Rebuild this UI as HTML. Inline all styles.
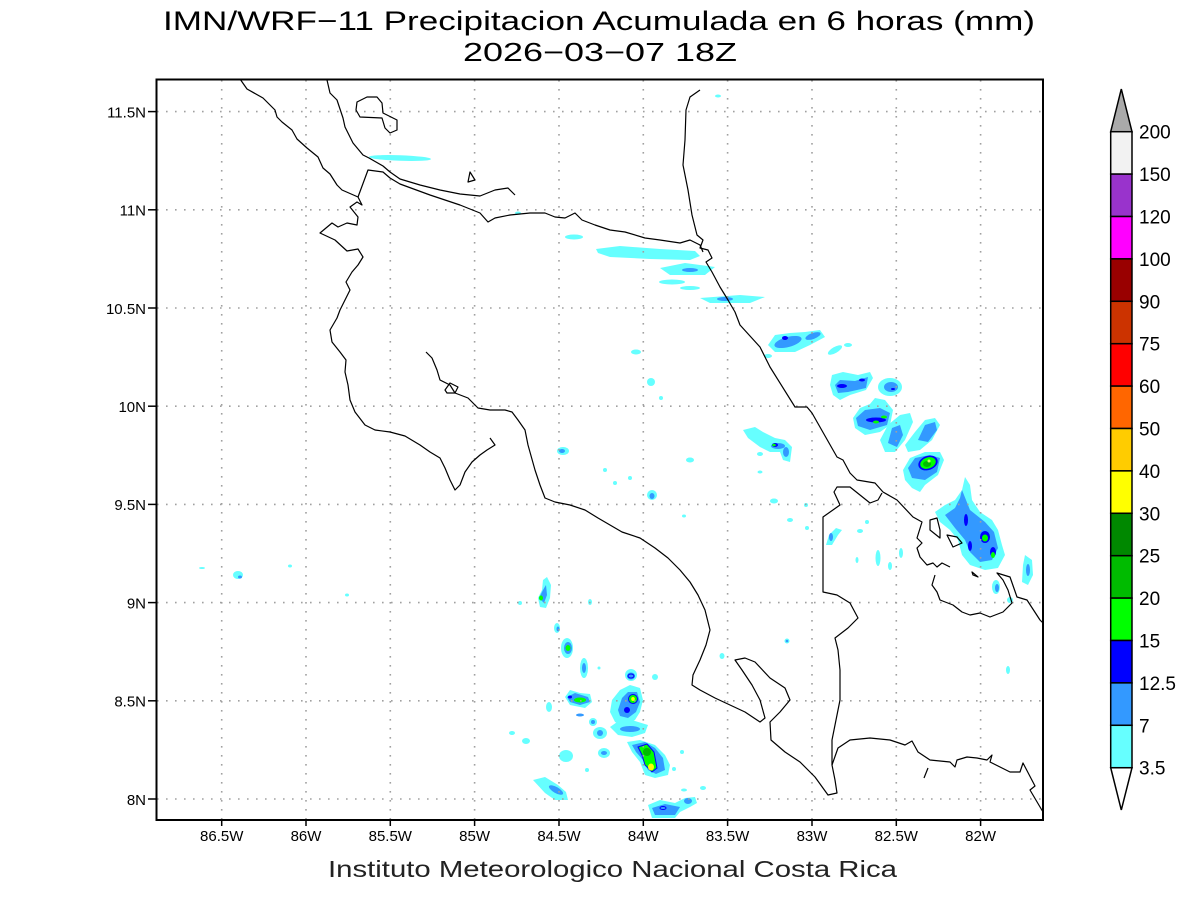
<!DOCTYPE html>
<html>
<head>
<meta charset="utf-8">
<style>
html,body{margin:0;padding:0;background:#fff;}
svg{display:block;}
text{font-family:"Liberation Sans",sans-serif;}
</style>
</head>
<body>
<svg width="1200" height="900" viewBox="0 0 1200 900" xmlns="http://www.w3.org/2000/svg">
<rect x="0" y="0" width="1200" height="900" fill="#fff"/>

<!-- Title -->
<text x="163" y="30" font-size="27" textLength="872" lengthAdjust="spacingAndGlyphs" fill="#000">IMN/WRF−11 Precipitacion Acumulada en 6 horas (mm)</text>
<text x="463" y="61" font-size="26" textLength="274" lengthAdjust="spacingAndGlyphs" fill="#000">2026−03−07 18Z</text>

<!-- Precipitation -->
<g stroke="none">
<!-- top -->
<ellipse cx="400" cy="158" rx="31" ry="2.8" fill="#66ffff" transform="rotate(2 400 158)"/>
<ellipse cx="718" cy="96" rx="3" ry="1.5" fill="#66ffff"/>
<ellipse cx="518" cy="213" rx="3" ry="1.5" fill="#66ffff"/>
<ellipse cx="574" cy="237" rx="9" ry="2.5" fill="#66ffff"/>
<polygon points="596,249 620,246 660,249 695,251 700,256 690,260 650,259 610,257 598,253" fill="#66ffff"/>
<polygon points="660,268 685,263 715,267 705,275 670,275" fill="#66ffff"/>
<ellipse cx="690" cy="270" rx="8" ry="2" fill="#3399ff"/>
<ellipse cx="672" cy="282" rx="13" ry="2.5" fill="#66ffff"/>
<ellipse cx="690" cy="288" rx="10" ry="2" fill="#66ffff"/>
<polygon points="700,298 740,295 765,297 750,303 710,303" fill="#66ffff"/>
<ellipse cx="725" cy="299" rx="8" ry="2" fill="#3399ff"/>
<polygon points="768,345 775,335 790,333 805,332 820,330 825,337 810,345 795,352 775,352" fill="#66ffff"/>
<ellipse cx="788" cy="342" rx="14" ry="5" fill="#3399ff" transform="rotate(-15 788 342)"/>
<ellipse cx="813" cy="336" rx="8" ry="3" fill="#3399ff" transform="rotate(-20 813 336)"/>
<ellipse cx="785" cy="338" rx="3" ry="2" fill="#0000ff"/>
<ellipse cx="835" cy="350" rx="8" ry="3" fill="#66ffff" transform="rotate(-30 835 350)"/>
<ellipse cx="848" cy="345" rx="4" ry="2" fill="#66ffff"/>
<ellipse cx="636" cy="352" rx="5" ry="2.5" fill="#66ffff"/>
<ellipse cx="651" cy="382" rx="4" ry="4" fill="#66ffff"/>
<ellipse cx="661" cy="398" rx="2" ry="2" fill="#66ffff"/>
<ellipse cx="768" cy="356" rx="4" ry="2" fill="#66ffff"/>
<!-- NE cluster -->
<polygon points="830,385 832,375 843,372 858,375 870,372 873,378 866,390 850,395 840,400 833,395" fill="#66ffff"/>
<polygon points="835,385 840,380 855,381 868,377 866,388 848,392 838,393" fill="#3399ff"/>
<ellipse cx="842" cy="386" rx="5" ry="2" fill="#0000ff"/>
<ellipse cx="862" cy="380" rx="3" ry="1.5" fill="#0000ff"/>
<ellipse cx="890" cy="387" rx="12" ry="9" fill="#66ffff"/>
<ellipse cx="891" cy="387" rx="7" ry="5" fill="#3399ff"/>
<ellipse cx="893" cy="389" rx="2" ry="1" fill="#0000ff"/>
<polygon points="853,418 860,408 870,404 875,398 885,400 893,410 890,425 880,432 865,435 855,428" fill="#66ffff"/>
<polygon points="856,418 865,410 880,408 890,413 887,425 870,430 858,426" fill="#3399ff"/>
<ellipse cx="876" cy="420" rx="10" ry="2.5" fill="#0000ff"/>
<ellipse cx="876" cy="422" rx="3" ry="1.5" fill="#00ff00"/>
<ellipse cx="884" cy="417" rx="3" ry="1.5" fill="#00ff00"/>
<polygon points="880,440 888,425 900,415 910,413 913,422 905,440 895,452 885,452" fill="#66ffff"/>
<polygon points="888,443 892,428 900,425 903,435 897,447" fill="#3399ff"/>
<polygon points="905,445 915,432 925,420 935,418 940,425 932,440 920,450 908,452" fill="#66ffff"/>
<polygon points="918,440 925,425 935,422 937,430 928,442" fill="#3399ff"/>
<polygon points="903,470 910,458 925,452 940,452 944,460 938,475 925,485 920,492 912,488 905,480" fill="#66ffff"/>
<polygon points="908,468 915,458 930,455 940,458 937,472 925,480 912,478" fill="#3399ff"/>
<ellipse cx="928" cy="463" rx="10" ry="7" fill="#0000ff" transform="rotate(-20 928 463)"/>
<ellipse cx="928" cy="463" rx="8" ry="5.5" fill="#00ff00" transform="rotate(-20 928 463)"/>
<ellipse cx="927" cy="464" rx="4" ry="3" fill="#00bb00"/>
<ellipse cx="929" cy="461" rx="1.5" ry="1.5" fill="#ccff66"/>
<polygon points="965,477 970,485 972,500 980,512 992,520 998,530 1002,545 1005,555 998,568 985,570 970,565 962,555 958,540 950,530 940,522 935,512 945,505 955,500 962,490" fill="#66ffff"/>
<polygon points="962,490 966,500 970,510 985,522 994,532 998,548 992,560 980,562 970,552 965,540 955,528 945,515 955,508 960,498" fill="#3399ff"/>
<ellipse cx="966" cy="520" rx="2" ry="6" fill="#0000ff"/>
<ellipse cx="970" cy="546" rx="2" ry="5" fill="#0000ff"/>
<ellipse cx="985" cy="537" rx="5" ry="6" fill="#0000ff"/>
<ellipse cx="993" cy="552" rx="3" ry="5" fill="#0000ff"/>
<ellipse cx="985" cy="538" rx="3" ry="3.5" fill="#00ff00"/>
<ellipse cx="993" cy="555" rx="2" ry="3" fill="#00ff00"/>
<polygon points="1025,555 1032,560 1033,575 1028,585 1022,582 1023,565" fill="#66ffff"/>
<ellipse cx="1028" cy="570" rx="2" ry="6" fill="#3399ff"/>
<ellipse cx="996" cy="587" rx="4" ry="7" fill="#66ffff"/>
<ellipse cx="997" cy="588" rx="2" ry="4" fill="#3399ff"/>
<ellipse cx="1010" cy="600" rx="3" ry="3" fill="#66ffff"/>
<ellipse cx="1008" cy="670" rx="2" ry="4" fill="#66ffff"/>
<!-- middle -->
<polygon points="743,430 755,427 763,432 775,438 785,440 792,447 790,462 783,460 780,452 770,452 760,447 748,438" fill="#66ffff"/>
<ellipse cx="778" cy="446" rx="7" ry="3" fill="#3399ff"/>
<ellipse cx="775" cy="445" rx="3" ry="2" fill="#0000ff"/>
<ellipse cx="774" cy="445" rx="1.8" ry="1.3" fill="#00ff00"/>
<ellipse cx="786" cy="452" rx="3" ry="5" fill="#3399ff"/>
<ellipse cx="760" cy="454" rx="3" ry="2" fill="#66ffff"/>
<ellipse cx="760" cy="472" rx="2.5" ry="1.5" fill="#66ffff"/>
<ellipse cx="690" cy="460" rx="4" ry="2.5" fill="#66ffff"/>
<ellipse cx="563" cy="451" rx="6" ry="4" fill="#66ffff"/>
<ellipse cx="562" cy="451" rx="3" ry="2" fill="#3399ff"/>
<ellipse cx="605" cy="470" rx="2" ry="2" fill="#66ffff"/>
<ellipse cx="615" cy="483" rx="2" ry="2" fill="#66ffff"/>
<ellipse cx="630" cy="478" rx="2" ry="2" fill="#66ffff"/>
<ellipse cx="652" cy="495" rx="5" ry="5" fill="#66ffff"/>
<ellipse cx="652" cy="496" rx="2.5" ry="3" fill="#3399ff"/>
<ellipse cx="684" cy="516" rx="2" ry="1.5" fill="#66ffff"/>
<ellipse cx="774" cy="501" rx="4" ry="2.5" fill="#66ffff"/>
<ellipse cx="790" cy="520" rx="3" ry="2" fill="#66ffff"/>
<ellipse cx="806" cy="505" rx="2" ry="2" fill="#66ffff"/>
<ellipse cx="807" cy="528" rx="2" ry="2" fill="#66ffff"/>
<polygon points="826,545 829,535 836,528 842,530 838,535 832,545" fill="#66ffff"/>
<ellipse cx="831" cy="537" rx="2" ry="4" fill="#3399ff"/>
<ellipse cx="860" cy="531" rx="3" ry="2" fill="#66ffff"/>
<ellipse cx="867" cy="522" rx="2" ry="2" fill="#66ffff"/>
<ellipse cx="878" cy="558" rx="2.5" ry="8" fill="#66ffff"/>
<ellipse cx="901" cy="553" rx="2" ry="5" fill="#66ffff"/>
<ellipse cx="890" cy="566" rx="2" ry="4" fill="#66ffff"/>
<ellipse cx="857" cy="560" rx="1.5" ry="3" fill="#66ffff"/>
<ellipse cx="787" cy="641" rx="2.5" ry="2.5" fill="#66ffff"/>
<ellipse cx="787" cy="641" rx="1.3" ry="1.3" fill="#3399ff"/>
<ellipse cx="722" cy="656" rx="2.5" ry="3" fill="#66ffff"/>
<!-- left -->
<ellipse cx="202" cy="568" rx="3" ry="1" fill="#66ffff"/>
<ellipse cx="238" cy="575" rx="5" ry="4" fill="#66ffff"/>
<ellipse cx="240" cy="577" rx="2" ry="1.5" fill="#3399ff"/>
<ellipse cx="290" cy="566" rx="2" ry="1.5" fill="#66ffff"/>
<ellipse cx="347" cy="595" rx="2" ry="1.5" fill="#66ffff"/>
<!-- SW cluster -->
<polygon points="538,598 542,590 543,580 547,577 551,585 550,598 546,608 540,607" fill="#66ffff"/>
<polygon points="539,598 543,590 546,585 547,595 544,603" fill="#3399ff"/>
<ellipse cx="541" cy="598" rx="2" ry="2.5" fill="#00ff00"/>
<ellipse cx="520" cy="603" rx="2" ry="2" fill="#66ffff"/>
<ellipse cx="590" cy="602" rx="2" ry="3" fill="#66ffff"/>
<ellipse cx="557" cy="628" rx="3" ry="5" fill="#66ffff"/>
<ellipse cx="558" cy="629" rx="1.5" ry="2.5" fill="#3399ff"/>
<ellipse cx="567" cy="648" rx="6" ry="10" fill="#66ffff"/>
<ellipse cx="568" cy="648" rx="4" ry="6" fill="#3399ff"/>
<ellipse cx="568" cy="648" rx="2.5" ry="3" fill="#00ff00"/>
<ellipse cx="584" cy="668" rx="4" ry="10" fill="#66ffff"/>
<ellipse cx="584" cy="668" rx="2" ry="5" fill="#3399ff"/>
<ellipse cx="599" cy="668" rx="1.5" ry="1.5" fill="#66ffff"/>
<ellipse cx="631" cy="675" rx="6" ry="6" fill="#66ffff"/>
<ellipse cx="631" cy="676" rx="4" ry="3.5" fill="#3399ff"/>
<ellipse cx="631" cy="676" rx="3" ry="2" fill="none" stroke="#0000ff" stroke-width="1"/>
<ellipse cx="655" cy="677" rx="3" ry="3" fill="#66ffff"/>
<polygon points="565,697 570,690 580,693 590,694 592,702 585,708 570,705" fill="#66ffff"/>
<polygon points="567,697 575,693 588,697 590,702 580,705 570,702" fill="#3399ff"/>
<ellipse cx="580" cy="700" rx="6" ry="2.5" fill="#00ff00"/>
<ellipse cx="570" cy="697" rx="2" ry="1.5" fill="#0000ff"/>
<ellipse cx="549" cy="707" rx="3" ry="5" fill="#66ffff"/>
<ellipse cx="580" cy="715" rx="4" ry="1.5" fill="#3399ff"/>
<polygon points="612,700 620,690 630,685 640,688 643,700 640,712 635,720 625,727 615,722 610,712" fill="#66ffff"/>
<polygon points="618,710 622,698 628,692 637,692 640,702 636,712 628,718 620,716" fill="#3399ff"/>
<ellipse cx="633" cy="699" rx="5" ry="5" fill="#0000ff"/>
<ellipse cx="633" cy="699" rx="4" ry="4" fill="#00ff00"/>
<ellipse cx="633" cy="699" rx="1.8" ry="2" fill="#ffff00"/>
<ellipse cx="627" cy="710" rx="3" ry="3" fill="#0000ff"/>
<polygon points="610,727 620,720 635,721 648,725 645,733 632,737 618,735" fill="#66ffff"/>
<ellipse cx="630" cy="729" rx="10" ry="3" fill="#3399ff"/>
<ellipse cx="593" cy="722" rx="4" ry="4" fill="#66ffff"/>
<ellipse cx="593" cy="722" rx="2" ry="2" fill="#3399ff"/>
<ellipse cx="600" cy="733" rx="7" ry="6" fill="#66ffff"/>
<ellipse cx="600" cy="733" rx="3" ry="3" fill="#3399ff"/>
<ellipse cx="512" cy="733" rx="3" ry="2" fill="#66ffff"/>
<ellipse cx="526" cy="741" rx="4" ry="3" fill="#66ffff"/>
<polygon points="627,742 640,740 655,745 665,755 670,765 668,775 655,778 645,775 640,762 632,752" fill="#66ffff"/>
<polygon points="632,745 645,742 655,748 663,758 665,770 656,774 648,770 643,760 636,752" fill="#3399ff"/>
<polygon points="638,747 647,744 654,752 657,768 652,772 645,765 642,755" fill="#00ff00" stroke="#0000ff" stroke-width="1"/>
<ellipse cx="647" cy="752" rx="4" ry="4" fill="#00bb00"/>
<ellipse cx="651" cy="767" rx="3" ry="3.5" fill="#ffff00"/>
<ellipse cx="604" cy="753" rx="6" ry="5" fill="#66ffff"/>
<ellipse cx="604" cy="753" rx="3" ry="2" fill="#3399ff"/>
<ellipse cx="566" cy="756" rx="7" ry="6" fill="#66ffff"/>
<ellipse cx="587" cy="770" rx="2" ry="2" fill="#66ffff"/>
<ellipse cx="682" cy="752" rx="2" ry="2" fill="#66ffff"/>
<ellipse cx="674" cy="769" rx="2" ry="2" fill="#66ffff"/>
<ellipse cx="703" cy="788" rx="3" ry="2" fill="#66ffff"/>
<polygon points="533,780 545,777 558,785 566,792 568,800 555,800 545,793" fill="#66ffff"/>
<ellipse cx="556" cy="790" rx="8" ry="3" fill="#3399ff" transform="rotate(30 556 790)"/>
<polygon points="648,805 660,800 675,803 685,798 695,797 697,803 690,807 680,812 675,818 652,818" fill="#66ffff"/>
<polygon points="652,808 665,804 680,807 675,815 655,815" fill="#3399ff"/>
<ellipse cx="663" cy="808" rx="3" ry="1.5" fill="none" stroke="#0000ff" stroke-width="1"/>
<ellipse cx="688" cy="801" rx="4" ry="3" fill="#3399ff"/>
<ellipse cx="684" cy="790" rx="3" ry="1.5" fill="#66ffff"/>
</g>

<!-- Grid -->
<g stroke="#a0a0a0" stroke-width="1.6" stroke-dasharray="1.6 7.4" fill="none">
<line x1="221.7" y1="80" x2="221.7" y2="819"/>
<line x1="306" y1="80" x2="306" y2="819"/>
<line x1="390.3" y1="80" x2="390.3" y2="819"/>
<line x1="474.6" y1="80" x2="474.6" y2="819"/>
<line x1="559" y1="80" x2="559" y2="819"/>
<line x1="643.3" y1="80" x2="643.3" y2="819"/>
<line x1="727.6" y1="80" x2="727.6" y2="819"/>
<line x1="812" y1="80" x2="812" y2="819"/>
<line x1="896.3" y1="80" x2="896.3" y2="819"/>
<line x1="980.6" y1="80" x2="980.6" y2="819"/>
<line x1="157" y1="799" x2="1042" y2="799"/>
<line x1="157" y1="700.8" x2="1042" y2="700.8"/>
<line x1="157" y1="602.6" x2="1042" y2="602.6"/>
<line x1="157" y1="504.4" x2="1042" y2="504.4"/>
<line x1="157" y1="406.2" x2="1042" y2="406.2"/>
<line x1="157" y1="308" x2="1042" y2="308"/>
<line x1="157" y1="209.8" x2="1042" y2="209.8"/>
<line x1="157" y1="111.6" x2="1042" y2="111.6"/>
</g>

<!-- Coastlines / borders -->
<g stroke="#000" stroke-width="1.2" fill="none" stroke-linejoin="round">
<path d="M240,79 L247,89 L263,98 L275,110 L277,117 L282,122 L292,130 L297,139 L307,148 L318,157 L323,168 L330,174 L337,185 L342,190 L358,197 L362,205 L357,202 L350,207 L358,217 L357,225 L347,223 L338,227 L332,223 L320,233 L335,240 L347,251 L358,249 L363,257 L358,265 L352,272 L346,282 L350,290 L345,300 L340,310 L337,318 L330,330 L332,342 L340,352 L346,360 L345,372 L348,385 L350,400 L355,412 L365,425 L375,430 L390,432 L405,436 L420,445 L430,452 L440,458 L445,468 L450,480 L455,490 L460,485 L465,472 L472,462 L480,455 L487,450 L495,445 L490,438"/>
<path d="M426,352 L432,358 L437,370 L440,380 L450,385 L455,393 L468,398 L478,408 L490,410 L505,410 L512,412 L518,420 L525,430 L528,445 L535,470 L540,485 L545,498 L555,502 L570,505 L585,510 L598,518 L610,525 L622,532 L640,538 L655,548 L668,558 L680,570 L690,582 L698,595 L705,610 L710,630 L706,645 L700,660 L693,675 L692,685 L700,690 L715,698 L730,705 L745,712 L760,722 L765,718 L760,700 L752,685 L742,670 L735,660 L745,658 L755,662 L770,678 L785,688 L790,700 L780,712 L770,722 L771,740 L785,752 L800,762 L815,777 L828,795 L837,793 L835,780 L832,765 L838,748 L850,740 L870,738 L890,740 L905,745 L912,741 L918,752 L930,760 L950,762 L955,767 L957,760 L967,757 L977,758 L987,760 L992,755 L990,762 L1010,772 L1020,772 L1023,763 L1035,786 L1030,790 L1043,812"/>
<path d="M445,390 L450,383 L458,387 L455,393 L447,393 Z"/>
<path d="M327,80 L330,93 L337,100 L343,118 L345,127 L353,143 L363,155 L369,158 L383,166 L390,172 L400,179 L420,185 L440,190 L460,194 L480,196 L495,190 L508,188 L515,195"/>
<path d="M357,102 L367,97 L377,97 L382,103 L383,113 L397,120 L397,130 L390,133 L385,128 L382,118 L360,117 L356,110 Z"/>
<path d="M468,182 L470,172 L475,180 Z"/>
<path d="M358,197 L368,170 L383,172 L390,178 L400,184 L430,195 L460,205 L480,213 L488,222 L495,218 L510,215 L530,213 L545,213 L555,217 L565,218 L575,213 L582,220 L595,225 L610,230 L625,232 L645,238 L660,240 L680,243 L690,240 L700,245 L703,252"/>
<path d="M700,90 L690,97 L686,110 L685,140 L683,165 L688,190 L692,215 L697,235 L703,240 L700,248 L708,250 L712,258 L706,262 L712,272 L720,287 L728,300 L735,312 L740,325 L760,347 L770,367 L795,407 L807,407 L812,413 L837,457 L843,460 L850,473 L857,480 L875,483 L883,492 L897,500 L913,517 L922,522 L917,538 L922,543 L917,548 L920,557 L927,565 L933,563 L937,567 L942,563 L950,567"/>
<path d="M935,575 L932,585 L937,592 L940,600 L953,605 L962,612 L970,615 L980,613 L990,617 L1003,612 L1012,603 L1008,590 L1003,580 L997,573 L1010,577 L1017,597 L1027,600 L1040,620 L1043,623"/>
<path d="M882,493 L878,500 L870,503 L850,487 L837,487 L834,492 L840,505 L823,517 L823,592 L837,595 L850,603 L858,618 L848,628 L835,638 L838,650 L840,670 L840,700 L836,720 L832,740 L832,765"/>
<path d="M930,520 L937,518 L940,530 L940,538 L930,530 Z"/>
<path d="M947,535 L957,537 L962,543 L953,547 Z"/>
<path d="M972,572 L978,577 L973,575 Z"/>
<path d="M924,778 L928,768"/>
</g>

<!-- Frame -->
<rect x="156.5" y="79.5" width="886.5" height="740.5" fill="none" stroke="#000" stroke-width="2"/>

<!-- Ticks -->
<g stroke="#000" stroke-width="1.5">
<line x1="221.7" y1="820" x2="221.7" y2="826"/>
<line x1="306" y1="820" x2="306" y2="826"/>
<line x1="390.3" y1="820" x2="390.3" y2="826"/>
<line x1="474.6" y1="820" x2="474.6" y2="826"/>
<line x1="559" y1="820" x2="559" y2="826"/>
<line x1="643.3" y1="820" x2="643.3" y2="826"/>
<line x1="727.6" y1="820" x2="727.6" y2="826"/>
<line x1="812" y1="820" x2="812" y2="826"/>
<line x1="896.3" y1="820" x2="896.3" y2="826"/>
<line x1="980.6" y1="820" x2="980.6" y2="826"/>
<line x1="148" y1="799" x2="156" y2="799"/>
<line x1="148" y1="700.8" x2="156" y2="700.8"/>
<line x1="148" y1="602.6" x2="156" y2="602.6"/>
<line x1="148" y1="504.4" x2="156" y2="504.4"/>
<line x1="148" y1="406.2" x2="156" y2="406.2"/>
<line x1="148" y1="308" x2="156" y2="308"/>
<line x1="148" y1="209.8" x2="156" y2="209.8"/>
<line x1="148" y1="111.6" x2="156" y2="111.6"/>
</g>

<!-- Axis labels -->
<g font-size="15" fill="#000" text-anchor="middle">
<text x="221.7" y="841">86.5W</text>
<text x="306" y="841">86W</text>
<text x="390.3" y="841">85.5W</text>
<text x="474.6" y="841">85W</text>
<text x="559" y="841">84.5W</text>
<text x="643.3" y="841">84W</text>
<text x="727.6" y="841">83.5W</text>
<text x="812" y="841">83W</text>
<text x="896.3" y="841">82.5W</text>
<text x="980.6" y="841">82W</text>
</g>
<g font-size="15" fill="#000" text-anchor="end">
<text x="146" y="805">8N</text>
<text x="146" y="706.5">8.5N</text>
<text x="146" y="608.5">9N</text>
<text x="146" y="510">9.5N</text>
<text x="146" y="412">10N</text>
<text x="146" y="314">10.5N</text>
<text x="146" y="215.5">11N</text>
<text x="146" y="117.5">11.5N</text>
</g>

<text x="328" y="877" font-size="23" fill="#222" textLength="569" lengthAdjust="spacingAndGlyphs">Instituto Meteorologico Nacional Costa Rica</text>

<!-- Colorbar -->
<g stroke="#000" stroke-width="1.5">
<polygon points="1110.7,131.7 1132,131.7 1121.3,89" fill="#aaaaaa"/>
<rect x="1110.7" y="131.7" width="21.3" height="42.4" fill="#f2f2f2"/>
<rect x="1110.7" y="174.1" width="21.3" height="42.4" fill="#9933cc"/>
<rect x="1110.7" y="216.5" width="21.3" height="42.4" fill="#ff00ff"/>
<rect x="1110.7" y="258.9" width="21.3" height="42.4" fill="#990000"/>
<rect x="1110.7" y="301.3" width="21.3" height="42.4" fill="#cc3300"/>
<rect x="1110.7" y="343.7" width="21.3" height="42.4" fill="#ff0000"/>
<rect x="1110.7" y="386.1" width="21.3" height="42.4" fill="#ff6600"/>
<rect x="1110.7" y="428.5" width="21.3" height="42.4" fill="#ffcc00"/>
<rect x="1110.7" y="470.9" width="21.3" height="42.4" fill="#ffff00"/>
<rect x="1110.7" y="513.3" width="21.3" height="42.4" fill="#008800"/>
<rect x="1110.7" y="555.7" width="21.3" height="42.4" fill="#00bb00"/>
<rect x="1110.7" y="598.1" width="21.3" height="42.4" fill="#00ff00"/>
<rect x="1110.7" y="640.5" width="21.3" height="42.4" fill="#0000ff"/>
<rect x="1110.7" y="682.9" width="21.3" height="42.4" fill="#3399ff"/>
<rect x="1110.7" y="725.3" width="21.3" height="42.4" fill="#66ffff"/>
<polygon points="1110.7,767.7 1132,767.7 1121.3,810" fill="#ffffff"/>
</g>
<g font-size="19" fill="#000">
<text x="1139" y="138.7">200</text>
<text x="1139" y="181.1">150</text>
<text x="1139" y="223.5">120</text>
<text x="1139" y="265.9">100</text>
<text x="1139" y="308.3">90</text>
<text x="1139" y="350.7">75</text>
<text x="1139" y="393.1">60</text>
<text x="1139" y="435.5">50</text>
<text x="1139" y="477.9">40</text>
<text x="1139" y="520.3">30</text>
<text x="1139" y="562.7">25</text>
<text x="1139" y="605.1">20</text>
<text x="1139" y="647.5">15</text>
<text x="1139" y="689.9">12.5</text>
<text x="1139" y="732.3">7</text>
<text x="1139" y="774.7">3.5</text>
</g>
</svg>
</body>
</html>
